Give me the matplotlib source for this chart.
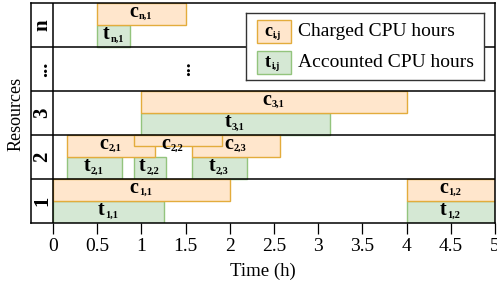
import matplotlib.pyplot as plt
from matplotlib.patches import Rectangle

plt.rcParams["font.family"] = "Liberation Serif"

# rows from bottom to top
row_labels = ["1", "2", "3", "...", "n"]

# charged CPU hours: (row, job, start, end)
charged_row = [0, 0, 1, 1, 1, 2, 4]
charged_job = ["1,1", "1,2", "2,1", "2,2", "2,3", "3,1", "n,1"]
charged_start = [0.0, 4.0, 0.155, 0.91, 1.57, 1.0, 0.5]
charged_end = [2.0, 5.0, 1.157, 1.91, 2.57, 4.0, 1.5]

# accounted CPU hours
acc_row = [0, 0, 1, 1, 1, 2, 4]
acc_job = ["1,1", "1,2", "2,1", "2,2", "2,3", "3,1", "n,1"]
acc_start = [0.0, 4.0, 0.155, 0.91, 1.57, 1.0, 0.5]
acc_end = [1.26, 5.0, 0.78, 1.28, 2.19, 3.13, 0.875]

xticks = [0, 0.5, 1, 1.5, 2, 2.5, 3, 3.5, 4, 4.5, 5]
xticklabels = ["0", "0.5", "1", "1.5", "2", "2.5", "3", "3.5", "4", "4.5", "5"]

c_fill, c_edge = "#ffe6cc", "#e3ac3c"
t_fill, t_edge = "#d5e8d4", "#93c47d"


def sub_label(a, x, y, letter, sub, size=14.5, subsize=7.5):
    # bold letter with a small bold subscript, roughly centred on x
    shift = -2.2 if letter == "c" else -3.0
    a.annotate(letter, (x, y), xytext=(shift, 0), textcoords="offset points",
               ha="right", va="baseline", fontsize=size, fontweight="bold", zorder=6)
    a.annotate(sub, (x, y), xytext=(shift + 0.4, -1.6), textcoords="offset points",
               ha="left", va="baseline", fontsize=subsize, fontweight="bold", zorder=6)


fig = plt.figure(figsize=(4.97, 2.87), dpi=100)
ax = fig.add_axes([31 / 497, 64 / 287, 464 / 497, 220 / 287])
ax.set_xlim(-0.25, 5)
ax.set_ylim(0, 5)

# accounted bars (bottom half of each row)
for r, j, s, e in zip(acc_row, acc_job, acc_start, acc_end):
    ax.add_patch(Rectangle((s, r), e - s, 0.5, facecolor=t_fill,
                           edgecolor=t_edge, lw=1.0, zorder=2))
    sub_label(ax, (s + e) / 2, r + 0.18, "t", j)

# charged bars (top half); a job overlapped on both sides is drawn thin on top
for i, (r, j, s, e) in enumerate(zip(charged_row, charged_job, charged_start, charged_end)):
    prev_end = charged_end[i - 1] if i > 0 and charged_row[i - 1] == r else None
    nxt_start = charged_start[i + 1] if i + 1 < len(charged_row) and charged_row[i + 1] == r else None
    overlapped = (prev_end is not None and prev_end > s) and (nxt_start is not None and nxt_start < e)
    if overlapped:
        ax.add_patch(Rectangle((s, r + 0.75), e - s, 0.25, facecolor=c_fill,
                               edgecolor=c_edge, lw=1.0, zorder=3))
        lx = (prev_end + nxt_start) / 2
    else:
        ax.add_patch(Rectangle((s, r + 0.5), e - s, 0.5, facecolor=c_fill,
                               edgecolor=c_edge, lw=1.0, zorder=2))
        lx = (s + e) / 2
    sub_label(ax, lx, r + 0.69, "c", j)

# row grid and label column
for y in range(1, 5):
    ax.axhline(y, color="black", lw=1.1, zorder=4)
ax.axvline(0, color="black", lw=1.1, zorder=4)
for i, lab in enumerate(row_labels):
    ax.text(-0.125, i + 0.5, lab, rotation=90, ha="center", va="center",
            fontsize=15, fontweight="bold", zorder=5)
ax.text(1.5, 3.5, "...", rotation=90, ha="center", va="center",
        fontsize=14, fontweight="bold", zorder=5)

for sp in ax.spines.values():
    sp.set_linewidth(1.1)
ax.set_yticks([])
ax.set_xticks(xticks)
ax.set_xticklabels(xticklabels, fontsize=14)
ax.tick_params(axis="x", direction="out", length=8, width=0.9, pad=2.5)
ax.set_xlabel("Time (h)", fontsize=13.5, labelpad=6)
fig.text(16 / 497, 1 - 114 / 287, "Resources", rotation=90, ha="center",
         va="center", fontsize=13)

# legend
lg = fig.add_axes([246 / 497, 1 - 80 / 287, 238 / 497, 67 / 287])
lg.set_xlim(0, 238)
lg.set_ylim(67, 0)
lg.set_xticks([])
lg.set_yticks([])
for sp in lg.spines.values():
    sp.set_linewidth(1.0)
    sp.set_color("#333333")
lg.set_zorder(10)
lg.add_patch(Rectangle((11, 7), 34, 23, facecolor=c_fill, edgecolor=c_edge, lw=1.0))
lg.add_patch(Rectangle((11, 38), 34, 23, facecolor=t_fill, edgecolor=t_edge, lw=1.0))
sub_label(lg, 29, 23, "c", "i,j", size=13, subsize=7)
sub_label(lg, 29, 54, "t", "i,j", size=13, subsize=7)
lg.text(52, 19, "Charged CPU hours", ha="left", va="center", fontsize=14)
lg.text(52, 50, "Accounted CPU hours", ha="left", va="center", fontsize=14)

fig.savefig("out.png", dpi=100)
